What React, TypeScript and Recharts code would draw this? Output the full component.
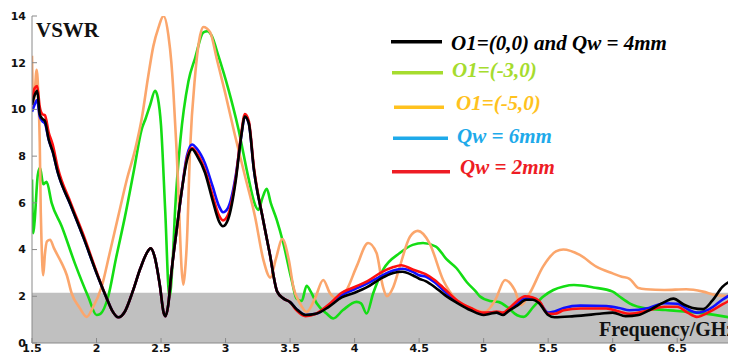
import { LineChart, Line, XAxis, YAxis, ReferenceArea, Legend } from "recharts";

// axes
const freqTicks = [1.5, 2, 2.5, 3, 3.5, 4, 4.5, 5, 5.5, 6, 6.5];
const vswrTicks = [0, 2, 4, 6, 8, 10, 12, 14];
const bandTop = 2.15;

// O1=(0,0) and Qw = 4mm
const blackFreq = [1.5, 1.52, 1.54, 1.56, 1.58, 1.6, 1.63, 1.66, 1.7, 1.8, 1.9, 2.0, 2.08, 2.12, 2.17, 2.22, 2.28, 2.34, 2.4, 2.42, 2.45, 2.49, 2.52, 2.535, 2.555, 2.58, 2.62, 2.66, 2.7, 2.74, 2.78, 2.84, 2.9, 2.95, 2.98, 3.02, 3.08, 3.12, 3.15, 3.18, 3.22, 3.29, 3.34, 3.4, 3.45, 3.5, 3.55, 3.62, 3.7, 3.8, 3.9, 4.0, 4.1, 4.2, 4.3, 4.37, 4.45, 4.5, 4.55, 4.62, 4.7, 4.8, 4.9, 5.0, 5.05, 5.1, 5.15, 5.2, 5.26, 5.33, 5.38, 5.43, 5.5, 5.55, 5.7, 5.9, 6.0, 6.1, 6.2, 6.3, 6.4, 6.47, 6.55, 6.62, 6.7, 6.77, 6.85, 6.95];
const blackVswr = [10.2, 10.6, 10.8, 9.8, 9.6, 9.5, 8.7, 8.2, 7.3, 5.9, 4.5, 3.0, 1.9, 1.4, 1.1, 1.35, 2.2, 3.2, 3.95, 4.05, 3.7, 2.5, 1.3, 1.15, 1.6, 3.0, 4.8, 6.5, 7.8, 8.3, 8.0, 7.3, 6.1, 5.2, 5.0, 5.3, 7.0, 8.8, 9.7, 9.4, 7.4, 5.3, 3.9, 2.2, 1.9, 1.75, 1.45, 1.2, 1.25, 1.55, 1.95, 2.15, 2.4, 2.75, 3.0, 3.05, 2.9, 2.75, 2.65, 2.4, 2.05, 1.7, 1.4, 1.2, 1.25, 1.3, 1.2, 1.4, 1.6, 1.85, 1.85, 1.7, 1.2, 1.1, 1.15, 1.25, 1.3, 1.15, 1.2, 1.45, 1.75, 1.9, 1.65, 1.5, 1.45, 1.8, 2.4, 2.75];

// O1=(-3,0)
const greenFreq = [1.5, 1.51, 1.52, 1.545, 1.562, 1.587, 1.613, 1.652, 1.73, 1.833, 1.936, 2.0, 2.03, 2.09, 2.15, 2.22, 2.29, 2.35, 2.38, 2.416, 2.454, 2.475, 2.5, 2.532, 2.565, 2.59, 2.609, 2.65, 2.712, 2.764, 2.828, 2.86, 2.893, 2.944, 3.02, 3.1, 3.176, 3.23, 3.254, 3.285, 3.319, 3.35, 3.396, 3.447, 3.512, 3.55, 3.59, 3.628, 3.66, 3.706, 3.783, 3.834, 3.91, 4.015, 4.05, 4.093, 4.144, 4.22, 4.35, 4.45, 4.53, 4.63, 4.71, 4.79, 4.87, 4.94, 4.97, 5.05, 5.12, 5.18, 5.26, 5.31, 5.385, 5.46, 5.54, 5.62, 5.7, 5.85, 6.0, 6.05, 6.13, 6.26, 6.41, 6.67, 6.9, 6.95];
const greenVswr = [7.0, 4.7, 5.2, 7.2, 7.5, 6.8, 6.9, 6.0, 5.0, 3.4, 1.98, 1.2, 1.25, 1.98, 3.6, 5.4, 7.4, 9.15, 9.6, 10.2, 10.8, 10.5, 9.3, 5.7, 1.95, 3.5, 5.7, 8.7, 11.2, 12.2, 13.3, 13.35, 13.15, 12.3, 10.9, 9.15, 7.1, 5.9, 5.7, 6.2, 6.6, 6.0, 5.28, 4.28, 2.7, 1.9, 1.8, 2.45, 2.2, 1.7, 1.26, 1.05, 1.41, 1.76, 1.7, 1.26, 2.13, 3.13, 3.85, 4.2, 4.28, 4.13, 3.6, 3.2, 2.6, 2.2, 2.0, 1.8, 1.75, 1.55, 1.19, 1.12, 1.55, 1.98, 2.27, 2.42, 2.48, 2.38, 2.2, 2.0, 1.7, 1.48, 1.41, 1.29, 1.1, 1.05];

// O1=(-5,0)
const orangeFreq = [1.5, 1.51, 1.52, 1.536, 1.55, 1.56, 1.568, 1.574, 1.587, 1.6, 1.616, 1.64, 1.67, 1.73, 1.77, 1.807, 1.87, 1.925, 1.97, 2.04, 2.1, 2.168, 2.235, 2.3, 2.35, 2.4, 2.44, 2.48, 2.519, 2.557, 2.58, 2.596, 2.62, 2.635, 2.66, 2.673, 2.685, 2.7, 2.725, 2.764, 2.803, 2.828, 2.88, 2.932, 2.996, 3.074, 3.151, 3.228, 3.293, 3.347, 3.39, 3.44, 3.49, 3.525, 3.577, 3.628, 3.693, 3.757, 3.809, 3.86, 3.938, 4.015, 4.105, 4.17, 4.22, 4.25, 4.3, 4.35, 4.43, 4.49, 4.58, 4.686, 4.79, 4.9, 5.01, 5.09, 5.166, 5.24, 5.29, 5.357, 5.46, 5.56, 5.617, 5.745, 5.873, 6.0, 6.07, 6.13, 6.2, 6.26, 6.4, 6.57, 6.7, 6.8, 6.95];
const orangeVswr = [12.3, 10.1, 10.6, 11.7, 10.5, 8.6, 5.6, 4.3, 2.9, 3.8, 4.35, 4.42, 4.06, 3.42, 2.9, 2.13, 1.5, 1.12, 1.5, 2.41, 3.8, 5.42, 7.0, 8.3, 9.6, 11.4, 12.7, 13.5, 14.0, 13.17, 12.0, 10.73, 8.3, 6.43, 3.13, 2.5, 3.0, 4.28, 8.29, 11.45, 13.17, 13.53, 13.31, 12.16, 10.73, 8.86, 7.14, 5.42, 3.56, 2.8, 3.6, 4.45, 3.56, 2.41, 1.69, 1.33, 1.91, 2.7, 2.13, 1.91, 2.27, 3.27, 4.28, 3.85, 2.4, 2.0, 2.4, 3.27, 4.56, 4.8, 4.28, 2.7, 1.84, 1.5, 1.33, 1.84, 2.7, 2.27, 1.62, 2.13, 3.27, 3.92, 4.0, 3.77, 3.27, 2.98, 2.84, 2.75, 2.35, 2.3, 2.27, 2.3, 2.2, 2.05, 2.0];

// Qw = 6mm
const blueFreq = [1.5, 1.52, 1.54, 1.56, 1.58, 1.6, 1.63, 1.66, 1.7, 1.8, 1.9, 2.0, 2.08, 2.12, 2.17, 2.22, 2.28, 2.34, 2.4, 2.42, 2.45, 2.49, 2.52, 2.535, 2.555, 2.58, 2.62, 2.66, 2.7, 2.74, 2.78, 2.84, 2.9, 2.95, 2.98, 3.02, 3.08, 3.12, 3.15, 3.18, 3.22, 3.29, 3.34, 3.4, 3.45, 3.5, 3.55, 3.62, 3.7, 3.8, 3.9, 4.0, 4.1, 4.2, 4.3, 4.37, 4.45, 4.5, 4.55, 4.62, 4.7, 4.8, 4.9, 5.0, 5.05, 5.1, 5.15, 5.2, 5.26, 5.32, 5.38, 5.43, 5.5, 5.55, 5.62, 5.75, 5.95, 6.05, 6.13, 6.28, 6.4, 6.5, 6.58, 6.65, 6.75, 6.85, 6.95];
const blueVswr = [9.9, 10.2, 10.4, 9.7, 9.5, 9.4, 8.7, 8.2, 7.3, 5.9, 4.5, 3.0, 1.9, 1.4, 1.1, 1.35, 2.2, 3.2, 3.95, 4.05, 3.7, 2.5, 1.3, 1.15, 1.6, 3.0, 4.8, 6.5, 8.0, 8.5, 8.3, 7.7, 6.7, 5.85, 5.6, 5.8, 7.2, 8.8, 9.7, 9.4, 7.4, 5.3, 3.9, 2.2, 1.9, 1.75, 1.45, 1.2, 1.25, 1.6, 2.05, 2.3, 2.55, 2.85, 3.1, 3.18, 3.05, 2.9, 2.85, 2.6, 2.2, 1.75, 1.45, 1.25, 1.3, 1.3, 1.25, 1.45, 1.7, 1.9, 1.9, 1.75, 1.3, 1.35, 1.5, 1.6, 1.58, 1.5, 1.4, 1.5, 1.7, 1.68, 1.45, 1.3, 1.45, 1.85, 2.2];

// Qw = 2mm
const redFreq = [1.5, 1.52, 1.54, 1.56, 1.58, 1.6, 1.63, 1.66, 1.7, 1.8, 1.9, 2.0, 2.08, 2.12, 2.17, 2.22, 2.28, 2.34, 2.4, 2.42, 2.45, 2.49, 2.52, 2.535, 2.555, 2.58, 2.62, 2.66, 2.7, 2.74, 2.78, 2.84, 2.9, 2.95, 2.98, 3.02, 3.08, 3.12, 3.15, 3.18, 3.22, 3.29, 3.34, 3.4, 3.45, 3.5, 3.55, 3.62, 3.7, 3.8, 3.9, 4.0, 4.1, 4.2, 4.3, 4.36, 4.45, 4.5, 4.55, 4.62, 4.7, 4.8, 4.9, 5.0, 5.05, 5.1, 5.15, 5.2, 5.26, 5.32, 5.38, 5.43, 5.5, 5.55, 5.62, 5.75, 5.95, 6.05, 6.13, 6.28, 6.4, 6.5, 6.58, 6.65, 6.75, 6.85, 6.95];
const redVswr = [10.3, 10.9, 11.0, 10.1, 9.8, 9.75, 9.0, 8.5, 7.5, 6.0, 4.6, 3.05, 1.9, 1.4, 1.1, 1.35, 2.2, 3.2, 3.95, 4.05, 3.7, 2.5, 1.3, 1.15, 1.6, 3.0, 4.8, 6.5, 7.9, 8.35, 8.1, 7.4, 6.3, 5.45, 5.25, 5.5, 7.1, 8.9, 9.8, 9.5, 7.5, 5.3, 3.9, 2.2, 1.9, 1.75, 1.4, 1.15, 1.25, 1.65, 2.15, 2.4, 2.65, 3.0, 3.25, 3.33, 3.15, 3.05, 2.95, 2.7, 2.3, 1.8, 1.5, 1.3, 1.3, 1.35, 1.3, 1.5, 1.8, 2.0, 1.95, 1.8, 1.25, 1.25, 1.4, 1.48, 1.48, 1.35, 1.25, 1.4, 1.55, 1.55, 1.3, 1.12, 1.33, 1.65, 1.95];

const toRows = (f: number[], v: number[]) => f.map((x, i) => ({ f: x, v: v[i] }));

// drawn back to front
const series = [
  { name: "O1=(-3,0)", rows: toRows(greenFreq, greenVswr), stroke: "#14dd14" },
  { name: "O1=(-5,0)", rows: toRows(orangeFreq, orangeVswr), stroke: "#fba66c" },
  { name: "Qw = 6mm", rows: toRows(blueFreq, blueVswr), stroke: "#1010ff" },
  { name: "Qw = 2mm", rows: toRows(redFreq, redVswr), stroke: "#ff1010" },
  { name: "O1=(0,0) and Qw = 4mm", rows: toRows(blackFreq, blackVswr), stroke: "#000000" },
];

const legendItems = [
  { name: "O1=(0,0) and Qw = 4mm", color: "#000000", lineY: 41.7, x1: 391, x2: 442, textX: 451, textY: 50 },
  { name: "O1=(-3,0)", color: "#a6dc2e", lineY: 72.7, x1: 392, x2: 443, textX: 452, textY: 77 },
  { name: "O1=(-5,0)", color: "#ffc21e", lineY: 107.3, x1: 394, x2: 444, textX: 456, textY: 110 },
  { name: "Qw = 6mm", color: "#1eaaea", lineY: 138.3, x1: 393, x2: 448, textX: 457, textY: 143 },
  { name: "Qw = 2mm", color: "#ee1c24", lineY: 171.7, x1: 392, x2: 450, textX: 460, textY: 174 },
];

const tickStyle = { fontSize: 11, fontWeight: 700, fontFamily: "DejaVu Sans", fill: "#111" };
const frame = "#8a8a8a";

function VswrLegend() {
  return (
    <svg width={736} height={360}>
      {legendItems.map((it) => (
        <g key={it.name}>
          <line x1={it.x1} x2={it.x2} y1={it.lineY} y2={it.lineY} stroke={it.color} strokeWidth={3.5} />
          <text
            x={it.textX}
            y={it.textY}
            fill={it.color}
            fontFamily="Liberation Serif"
            fontStyle="italic"
            fontWeight={700}
            fontSize={21}
          >
            {it.name}
          </text>
        </g>
      ))}
      <text x={599} y={336} fontFamily="Liberation Serif" fontWeight={700} fontSize={20} fill="#111">
        Frequency/GHz
      </text>
    </svg>
  );
}

export default function App() {
  return (
    <div style={{ margin: -8, width: 736, height: 360, overflow: "hidden", background: "#fff", position: "relative" }}>
      <LineChart width={736} height={360} margin={{ top: 16, right: 1, bottom: 0, left: 0 }}>
        <ReferenceArea y1={0} y2={bandTop} fill="#c0c0c0" fillOpacity={1} stroke="none" />
        <XAxis
          type="number"
          dataKey="f"
          domain={[1.5, 6.94]}
          ticks={freqTicks}
          allowDataOverflow
          height={17}
          tick={tickStyle}
          tickSize={-5}
          tickMargin={6}
          stroke={frame}
        />
        <XAxis
          xAxisId="top"
          orientation="top"
          type="number"
          domain={[1.5, 6.94]}
          ticks={freqTicks}
          height={0}
          tickSize={-5}
          tickFormatter={() => ""}
          stroke={frame}
        />
        <YAxis
          type="number"
          domain={[0, 14]}
          ticks={vswrTicks}
          allowDataOverflow
          width={32}
          tick={tickStyle}
          tickSize={-5}
          tickMargin={11}
          stroke={frame}
        />
        <YAxis
          yAxisId="right"
          orientation="right"
          type="number"
          domain={[0, 14]}
          ticks={vswrTicks}
          width={1}
          tickSize={-5}
          tickFormatter={() => ""}
          stroke={frame}
        />
        {series.map((s) => (
          <Line
            key={s.name}
            data={s.rows}
            dataKey="v"
            name={s.name}
            type="monotone"
            stroke={s.stroke}
            strokeWidth={2.6}
            dot={false}
            isAnimationActive={false}
          />
        ))}
        <text x={36} y={37} fontFamily="Liberation Serif" fontWeight={700} fontSize={21} fill="#111">
          VSWR
        </text>
        <Legend
          layout="horizontal"
          verticalAlign="middle"
          align="center"
          content={() => <VswrLegend />}
          wrapperStyle={{ left: 0, top: 0, width: 736, height: 360, pointerEvents: "none" }}
        />
      </LineChart>
    </div>
  );
}
